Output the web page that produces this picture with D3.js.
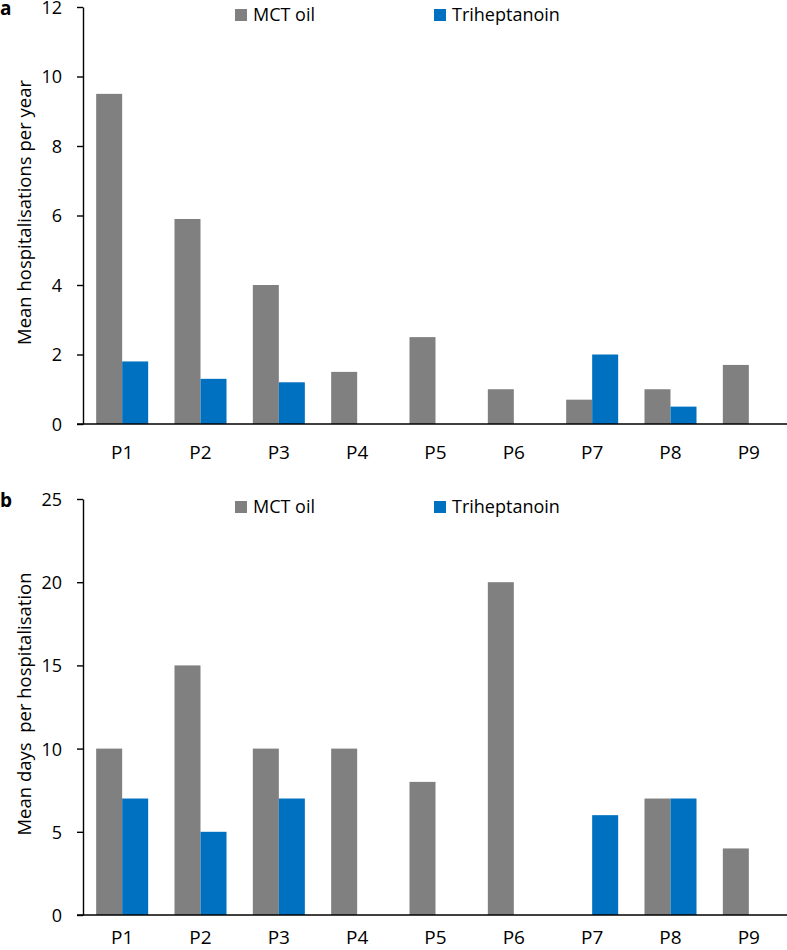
<!DOCTYPE html>
<html>
<head>
<meta charset="utf-8">
<script src="https://cdn.jsdelivr.net/npm/d3@7"></script>
<style>
  html, body { margin: 0; padding: 0; background: #fff; }
  svg { display: block; }
  text { font-family: "Open Sans", "Noto Sans", sans-serif; fill: #000; }
</style>
</head>
<body>
<svg id="chart" width="787" height="950"></svg>
<script>
// ---- data ----
const categories = ["P1", "P2", "P3", "P4", "P5", "P6", "P7", "P8", "P9"];
const seriesNames = ["MCT oil", "Triheptanoin"];
const hospPerYearMCT = [9.5, 5.9, 4.0, 1.5, 2.5, 1.0, 0.7, 1.0, 1.7];
const hospPerYearTri = [1.8, 1.3, 1.2, 0, 0, 0, 2.0, 0.5, 0];
const daysPerHospMCT = [10, 15, 10, 10, 8, 20, 0, 7, 4];
const daysPerHospTri = [7, 5, 7, 0, 0, 0, 6, 7, 0];
const ticksA = [0, 2, 4, 6, 8, 10, 12];
const ticksB = [0, 5, 10, 15, 20, 25];
const colors = ["#808080", "#0070C0"];

const svg = d3.select("#chart");

function panel(opts) {
  const { label, values, ticks, yMax, top, bottom, title, labelOffset } = opts;
  const g = svg.append("g");
  const axisX = 83;
  const x0 = d3.scaleBand().domain(categories).range([axisX, 788])
    .paddingInner(0.336).paddingOuter(0.168);
  const x1 = d3.scaleBand().domain(seriesNames).range([0, x0.bandwidth()]);
  const y = d3.scaleLinear().domain([0, yMax]).range([bottom, top]);

  // bars
  const rows = categories.map((c, i) => ({ c, vals: seriesNames.map((s, j) => ({ s, v: values[j][i], j })) }));
  const cg = g.selectAll("g.cat").data(rows).join("g")
    .attr("transform", d => `translate(${x0(d.c)},0)`);
  cg.selectAll("rect").data(d => d.vals.filter(v => v.v > 0)).join("rect")
    .attr("x", d => x1(d.s))
    .attr("width", x1.bandwidth())
    .attr("y", d => y(d.v))
    .attr("height", d => y(0) - y(d.v))
    .attr("fill", d => colors[d.j]);

  // y axis
  const yAxis = d3.axisLeft(y).tickValues(ticks).tickSize(6).tickSizeOuter(0).tickPadding(15);
  const ya = g.append("g").attr("transform", `translate(${axisX},0)`).call(yAxis);
  ya.select(".domain").attr("stroke", "#000").attr("stroke-width", 1.4);
  ya.selectAll(".tick line").attr("stroke", "#000").attr("stroke-width", 1.4);
  ya.selectAll(".tick text").style("font-size", "18px").style("font-family", "'Open Sans', sans-serif")
    .attr("fill", "#000").attr("dy", "0.36em");

  // x axis baseline + labels
  const xAxis = d3.axisBottom(x0).tickSize(0);
  const xa = g.append("g").attr("transform", `translate(0,${bottom})`).call(xAxis);
  xa.select(".domain").remove();
  xa.append("line").attr("x1", axisX - 6).attr("x2", 787).attr("y1", 0).attr("y2", 0)
    .attr("stroke", "#000").attr("stroke-width", 1.4);
  xa.selectAll(".tick text").style("font-size", "19px").style("font-family", "'Open Sans', sans-serif")
    .attr("fill", "#000").attr("y", labelOffset).attr("dy", 0);

  // y title
  g.append("text")
    .attr("transform", `translate(23,${(top + bottom) / 2 - 3}) rotate(-90)`)
    .attr("text-anchor", "middle").attr("dominant-baseline", "central")
    .style("font-size", "18.5px").style("white-space", "pre")
    .text(title);

  // panel label
  g.append("text").attr("x", 0).attr("y", top + 8)
    .style("font-size", "19px").style("font-weight", "bold").text(label);

  // legend
  const legX = [235, 434];
  seriesNames.forEach((s, j) => {
    g.append("rect").attr("x", legX[j]).attr("y", top + 2).attr("width", 12).attr("height", 12).attr("fill", colors[j]);
    g.append("text").attr("x", legX[j] + 18).attr("y", top + 14).style("font-size", "18px").text(s);
  });
}

panel({ label: "a", values: [hospPerYearMCT, hospPerYearTri], ticks: ticksA, yMax: 12, top: 7, bottom: 424,
        title: "Mean hospitalisations per year", labelOffset: 35 });
panel({ label: "b", values: [daysPerHospMCT, daysPerHospTri], ticks: ticksB, yMax: 25, top: 499, bottom: 915,
        title: "Mean days  per hospitalisation", labelOffset: 29 });
</script>
</body>
</html>
